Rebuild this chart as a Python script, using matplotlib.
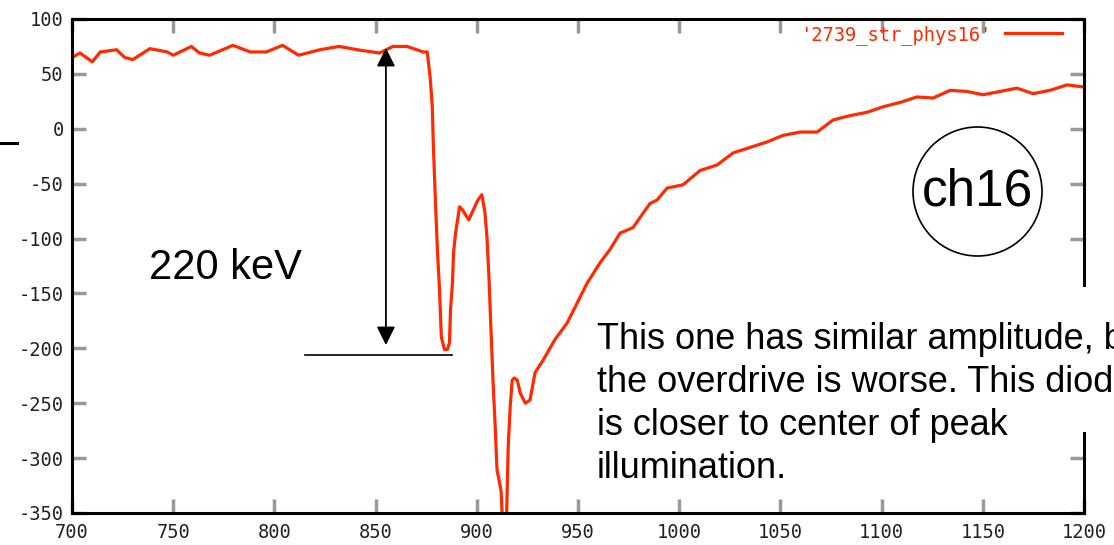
import matplotlib
matplotlib.use("Agg")
import matplotlib.pyplot as plt
from matplotlib.lines import Line2D
from matplotlib.patches import Ellipse, Rectangle

# waveform of channel 16
time_ns = [700, 704, 710, 714, 722, 726, 730, 738.5, 747, 750, 759, 763, 768,
           779.5, 788, 796, 804, 812, 822.5, 832, 841, 852, 858.5, 865.5, 873.5,
           875.5, 877, 878, 878.5, 879.5, 880.5, 881.5, 882.5, 884, 885.5, 886.5,
           887, 888, 888.5, 889.5, 890.5, 891.5, 893, 896, 897.5, 900.5, 902.5,
           904, 905, 906, 907, 908, 909, 910, 911, 912, 913, 914.5, 915.5, 916.5,
           917.5, 918.5, 920, 921.5, 924, 926.3, 928.8, 932.7, 938.6, 944.6,
           949.5, 954.4, 960.9, 965.8, 970.8, 977.2, 982.1, 985.6, 989, 994,
           1001.9, 1010.3, 1018.7, 1026.6, 1035, 1043.4, 1051.3, 1059.7, 1068.1,
           1076, 1084.4, 1092.8, 1100.7, 1109.1, 1117.5, 1125.4, 1133.8, 1142.2,
           1150.1, 1158.5, 1166.9, 1174.8, 1183.2, 1191.6, 1200]
amplitude = [65, 69, 61, 70, 72, 65, 63, 73, 70, 67, 75, 69, 67,
             76, 70, 70, 76, 67, 72, 75, 72, 69, 75, 75, 70,
             70, 46, 20, -13, -63, -109, -144, -190, -201, -201, -195,
             -165, -140, -113, -95, -83, -71, -74, -83, -77, -65, -60,
             -76, -98, -135, -183, -229, -268, -311, -320, -330, -370, -370, -290, -253,
             -229, -227, -229, -241, -250, -247, -222, -211, -192, -177,
             -159, -141, -122, -110, -95, -90, -77, -68, -65, -54,
             -51, -38, -33, -22, -17, -12, -6, -3, -3,
             8, 12, 15, 20, 24, 29, 28, 35, 34,
             31, 34, 37, 32, 35, 40, 38]

x_ticks = list(range(700, 1201, 50))
y_ticks = list(range(-350, 101, 50))
series_label = "'2739_str_phys16'"

red = "#ff2a00"
W, H = 1114, 545
plt.rcParams['axes.unicode_minus'] = False

fig = plt.figure(figsize=(W / 100, H / 100), dpi=100)
ax = fig.add_axes([72 / W, 1 - 513 / H, (1084 - 72) / W, (513 - 19) / H])

ax.plot(time_ns, amplitude, color=red, lw=2.3, label=series_label)
ax.set_xlim(700, 1200)
ax.set_ylim(-350, 100)
ax.set_xticks(x_ticks)
ax.set_yticks(y_ticks)
ax.tick_params(direction="in", length=10, width=2.5, color="#999999",
               top=True, right=True, labelsize=13.5, labelcolor="#222222")
for lab in ax.get_xticklabels() + ax.get_yticklabels():
    lab.set_family("DejaVu Sans Mono")
ax.tick_params(axis="x", pad=7)
ax.tick_params(axis="y", pad=6)
for s in ax.spines.values():
    s.set_linewidth(2.2)

leg = ax.legend(loc="upper right", bbox_to_anchor=(0.978, 0.988), frameon=False,
                markerfirst=False, handlelength=3.0, handletextpad=0.75,
                borderpad=0, borderaxespad=0,
                prop={"family": "DejaVu Sans Mono", "size": 13.5})
for t in leg.get_texts():
    t.set_color(red)

# 220 keV amplitude marker
ax.annotate("", xy=(855.1, -197), xytext=(855.1, 73.6),
            arrowprops=dict(arrowstyle="<|-|>", color="black", lw=1.3,
                            mutation_scale=28, shrinkA=0, shrinkB=0))
ax.plot([815, 887.7], [-206, -206], color="black", lw=1.2)
ax.text(149 / W, 1 - 268 / H, "220 keV", transform=fig.transFigure,
        family="Liberation Sans", fontsize=30, va="center", ha="left")

# ch16 badge
fig.add_artist(Ellipse((977.5 / W, 1 - 191.5 / H), 129 / W, 129 / H,
                       transform=fig.transFigure, fill=False, lw=1.2,
                       edgecolor="black", zorder=5))
fig.text(977.5 / W, 1 - 191.5 / H, "ch16", family="Liberation Sans",
         fontsize=37, ha="center", va="center", zorder=6)

# note box hiding part of the right border (text runs off the page as in the slide)
fig.add_artist(Rectangle((592 / W, 1 - 432 / H), (W - 592) / W, 145 / H,
                         transform=fig.transFigure, facecolor="white",
                         edgecolor="none", zorder=7))
fig.text(597 / W, 1 - 322 / H,
         "This one has similar amplitude, but\nthe overdrive is worse. This diode\n"
         "is closer to center of peak\nillumination.",
         family="Liberation Sans", fontsize=26, ha="left", va="top",
         linespacing=1.3, zorder=8)

# stray mark at the left edge
fig.add_artist(Line2D([0, 17 / W], [1 - 143 / H, 1 - 143 / H],
                      transform=fig.transFigure, color="black", lw=2.2))

fig.savefig("out.png", dpi=100)
